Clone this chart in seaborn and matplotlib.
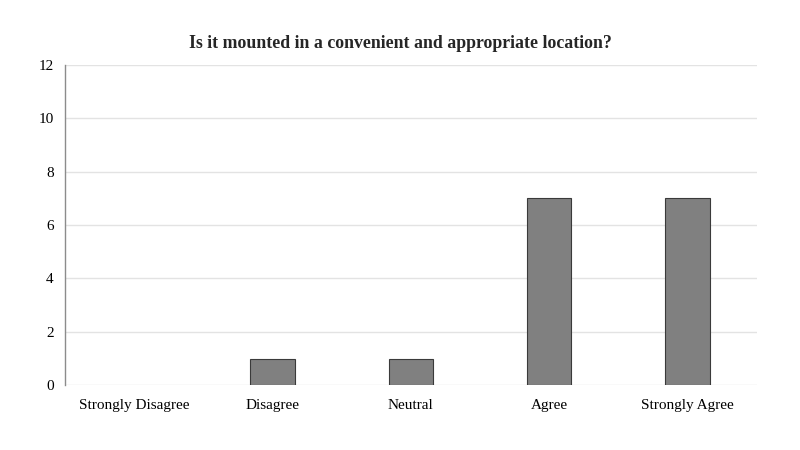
import matplotlib
matplotlib.use("Agg")
import matplotlib.pyplot as plt
import seaborn as sns
import pandas as pd

categories = ["Strongly Disagree", "Disagree", "Neutral", "Agree", "Strongly Agree"]
counts = [0, 1, 1, 7, 7]
title = "Is it mounted in a convenient and appropriate location?"

sns.set_theme(style="white")
plt.rcParams['font.family'] = ['Liberation Serif', 'DejaVu Serif']

df = pd.DataFrame({"category": categories, "count": counts})

fig = plt.figure(figsize=(8, 4.5), dpi=100)
ax = fig.add_axes([0.081, 0.144, 0.865, 0.712])
sns.barplot(data=df, x="category", y="count", order=categories, color="#808080",
            saturation=1, width=0.32, edgecolor="#3a3a3a", linewidth=0.8, ax=ax, zorder=3)
for p in ax.patches:
    if p.get_height() == 0:
        p.set_linewidth(0)
ax.set_ylim(0, 12)
ax.set_yticks(range(0, 13, 2))
ax.set_xlim(-0.5, 4.5)
ax.yaxis.grid(True, color="#e3e3e3", linewidth=1, zorder=0)
ax.set_axisbelow(True)
for s in ["top", "right", "bottom"]:
    ax.spines[s].set_visible(False)
ax.spines["left"].set_color("#8c8c8c")
ax.spines["left"].set_linewidth(1)
ax.set_xlabel("")
ax.set_ylabel("")
ax.tick_params(axis="both", length=0, labelsize=11, colors="#000000", pad=8)
ax.tick_params(axis="x", pad=10)
fig.text(0.5, 1 - 43 / 450, title, fontsize=12.8, fontweight="bold", ha="center", va="center")
fig.savefig("out.png", dpi=100)
